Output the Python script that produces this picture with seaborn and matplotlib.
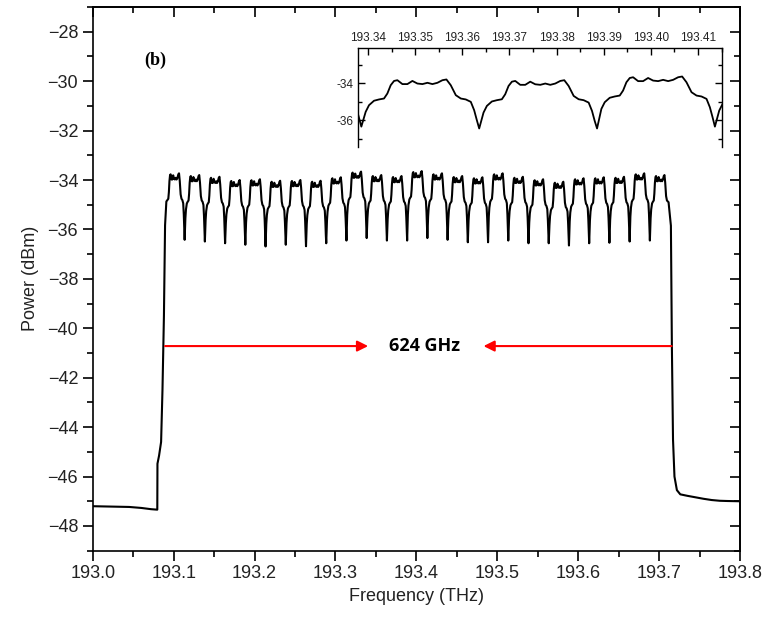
import numpy as np
import pandas as pd
import matplotlib
matplotlib.use("Agg")
import matplotlib.pyplot as plt
import seaborn as sns
from matplotlib.ticker import MultipleLocator, FormatStrFormatter

# noise floor and comb edges (THz, dBm)
left_floor_f = [193.000, 193.015, 193.030, 193.045, 193.060, 193.072, 193.0798]
left_floor_p = [-47.20, -47.21, -47.22, -47.23, -47.27, -47.32, -47.34]
left_edge_f = [193.0800, 193.0820, 193.0845, 193.0862, 193.0880, 193.0894, 193.0910]
left_edge_p = [-45.48, -45.15, -44.60, -42.50, -39.50, -35.83, -34.87]
right_edge_f = [193.7117, 193.7146, 193.7158, 193.7172, 193.7190, 193.7220, 193.7262]
right_edge_p = [-34.90, -35.85, -40.72, -44.50, -46.00, -46.55, -46.72]
right_floor_f = [193.735, 193.745, 193.755, 193.765, 193.775, 193.785, 193.800]
right_floor_p = [-46.78, -46.84, -46.90, -46.95, -46.98, -46.99, -47.00]

# one 25 GHz channel as seen in the inset (GHz after the dip, dBm)
profile_ghz = [0.92, 1.63, 2.69, 3.75, 4.81, 5.52, 6.23, 6.94, 7.65, 8.71, 9.77,
               10.83, 11.89, 12.96, 14.02, 15.08, 16.14, 17.20, 18.05, 18.97,
               20.04, 21.10, 22.16, 23.22, 23.93, 24.50]
profile_db = [-35.55, -35.19, -34.95, -34.88, -34.83, -34.56, -34.11, -33.88, -33.84,
              -34.05, -34.05, -33.88, -34.02, -34.05, -33.98, -34.05, -33.98, -33.84,
              -33.80, -34.11, -34.65, -34.83, -34.88, -35.01, -35.46, -36.00]

# comb start, dips between channels and level of each channel
comb_start = 193.0886
dip_thz = [193.1136, 193.1386, 193.1636, 193.1886, 193.2136, 193.2386, 193.2636, 193.2886,
           193.3136, 193.3386, 193.3636, 193.3886, 193.4136, 193.4386, 193.4636, 193.4886,
           193.5136, 193.5386, 193.5636, 193.5886, 193.6136, 193.6386, 193.6636, 193.6886]
dip_db = [-36.42, -36.49, -36.56, -36.62, -36.69, -36.62, -36.68, -36.56, -36.45, -36.35,
          -36.45, -36.45, -36.35, -36.42, -36.52, -36.52, -36.45, -36.56, -36.56, -36.65,
          -36.56, -36.54, -36.49, -36.45]
peak_db = [-33.73, -33.80, -33.87, -34.00, -33.97, -34.03, -34.00, -34.03, -33.89, -33.66,
           -33.80, -33.84, -33.64, -33.73, -33.84, -33.89, -33.73, -33.87, -33.97, -34.07,
           -33.93, -33.89, -33.87, -33.73, -33.80]

# assemble the trace
freq = list(left_floor_f) + list(left_edge_f)
power = list(left_floor_p) + list(left_edge_p)
starts = [comb_start] + dip_thz
for k, start in enumerate(starts):
    shift = peak_db[k] - max(profile_db)
    for off, lvl in zip(profile_ghz, profile_db):
        if k == 0 and off < 4.5:
            continue
        if k == len(starts) - 1 and off > 21.2:
            continue
        freq.append(start + off / 1000)
        power.append(lvl + shift)
    if k < len(dip_thz):
        freq.append(dip_thz[k])
        power.append(dip_db[k])
freq += right_edge_f + right_floor_f
power += right_edge_p + right_floor_p
df = pd.DataFrame({"freq": freq, "power": power})

sns.set_theme(style="ticks")
plt.rcParams['font.family'] = ['Liberation Sans', 'DejaVu Sans']
plt.rcParams['axes.edgecolor'] = 'black'
plt.rcParams['xtick.color'] = 'black'
plt.rcParams['ytick.color'] = 'black'
plt.rcParams['text.color'] = '#222222'
plt.rcParams['axes.labelcolor'] = '#222222'

fig = plt.figure(figsize=(7.67, 6.26), dpi=100)
ax = fig.add_axes([0.1209, 0.1203, 0.8439, 0.8685])
sns.lineplot(data=df, x="freq", y="power", ax=ax, color="black", lw=1.5,
             estimator=None, sort=False)

ax.set_xlim(193.0, 193.8)
ax.set_ylim(-49, -27)
ax.xaxis.set_major_locator(MultipleLocator(0.1))
ax.xaxis.set_minor_locator(MultipleLocator(0.05))
ax.xaxis.set_major_formatter(FormatStrFormatter('%.1f'))
ax.yaxis.set_major_locator(MultipleLocator(2))
ax.yaxis.set_minor_locator(MultipleLocator(1))
ax.tick_params(which='major', direction='out', length=7, width=1.2, labelsize=13,
               labelcolor='#222222')
ax.tick_params(which='minor', direction='out', length=4, width=1.2)
for s in ax.spines.values():
    s.set_linewidth(1.2)
    s.set_visible(True)
ax.set_xlabel("Frequency (THz)", fontsize=13)
ax.set_ylabel("Power (dBm)", fontsize=13, labelpad=6)

# inward ticks on top and right
secx = ax.secondary_xaxis('top')
secx.xaxis.set_major_locator(MultipleLocator(0.1))
secx.xaxis.set_minor_locator(MultipleLocator(0.05))
secx.tick_params(which='major', direction='in', length=7, width=1.2, labeltop=False)
secx.tick_params(which='minor', direction='in', length=4, width=1.2)
secy = ax.secondary_yaxis('right')
secy.yaxis.set_major_locator(MultipleLocator(2))
secy.yaxis.set_minor_locator(MultipleLocator(1))
secy.tick_params(which='major', direction='in', length=7, width=1.2, labelright=False)
secy.tick_params(which='minor', direction='in', length=4, width=1.2)

# 624 GHz arrows
arrow_y = -40.72
ax.annotate("", xy=(193.3404, arrow_y), xytext=(193.0894, arrow_y),
            arrowprops=dict(arrowstyle="-|>", color="red", lw=1.5,
                            mutation_scale=16, shrinkA=0, shrinkB=0))
ax.annotate("", xy=(193.4830, arrow_y), xytext=(193.7155, arrow_y),
            arrowprops=dict(arrowstyle="-|>", color="red", lw=1.5,
                            mutation_scale=16, shrinkA=0, shrinkB=0))
ax.text(193.4103, arrow_y, "624 GHz", ha="center", va="center", fontsize=13,
        fontweight="bold", color="black", family=["Open Sans", "DejaVu Sans"])
ax.text(193.077, -29.15, "(b)", ha="center", va="center", fontsize=13,
        fontweight="bold", color="black", family=["Liberation Serif", "DejaVu Serif"])

# inset
axi = fig.add_axes([0.4668, 0.7652, 0.4745, 0.1581])
sns.lineplot(data=df, x="freq", y="power", ax=axi, color="black", lw=1.3,
             estimator=None, sort=False)
axi.set_xlim(193.3379, 193.4151)
axi.set_ylim(-37.45, -32.1)
axi.xaxis.set_major_locator(MultipleLocator(0.01))
axi.xaxis.set_minor_locator(MultipleLocator(0.005))
axi.xaxis.set_major_formatter(FormatStrFormatter('%.2f'))
axi.yaxis.set_major_locator(MultipleLocator(2))
axi.yaxis.set_minor_locator(MultipleLocator(1))
axi.yaxis.set_major_formatter(FormatStrFormatter('%d'))
axi.tick_params(axis='x', which='both', direction='in', top=True, bottom=False,
                labeltop=True, labelbottom=False, width=1.0, labelsize=8.5, pad=3,
                labelcolor='#222222')
axi.tick_params(axis='y', which='both', direction='in', left=True, right=True,
                labelleft=True, width=1.0, labelsize=8.5, pad=3, labelcolor='#222222')
axi.tick_params(which='major', length=5)
axi.tick_params(which='minor', length=3)
axi.spines['bottom'].set_visible(False)
for s in ['top', 'left', 'right']:
    axi.spines[s].set_linewidth(1.0)
axi.set_xlabel("")
axi.set_ylabel("")
axi.patch.set_alpha(0)

fig.savefig("out.png", dpi=100)
